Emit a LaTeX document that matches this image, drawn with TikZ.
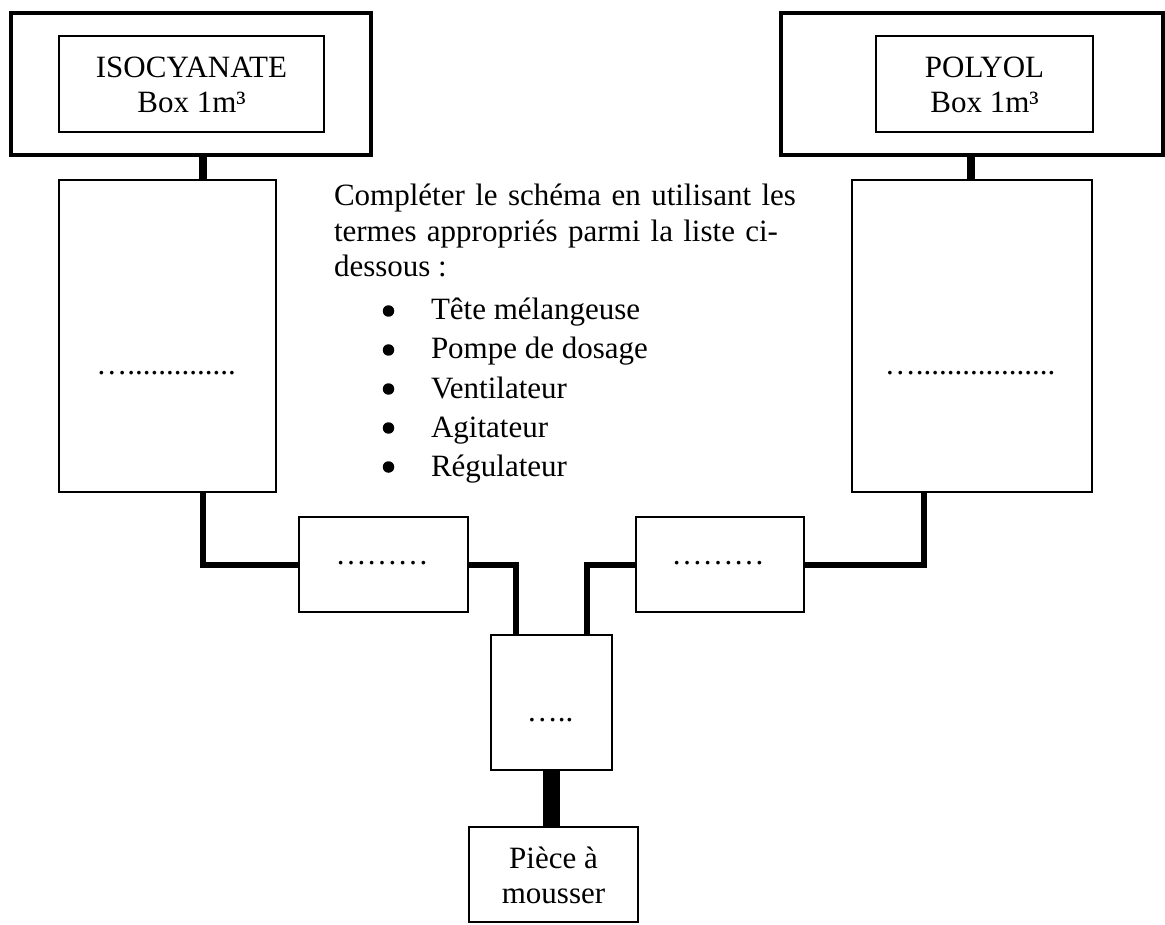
\documentclass[tikz,border=0pt]{standalone}
\usepackage{fontspec}
\setmainfont{Liberation Serif}
\begin{document}
\begin{tikzpicture}[x=1pt,y=-1pt]
\tikzset{
 thickbox/.style={draw, line width=4pt, inner sep=0pt, outer sep=0pt},
 thinbox/.style={draw, line width=1.8pt, inner sep=0pt, outer sep=0pt},
 txt/.style={inner sep=0pt, outer sep=0pt, anchor=base, font=\fontsize{31}{35}\selectfont},
 bulletdot/.style={circle, fill=black, inner sep=0pt, outer sep=0pt, minimum size=11.5pt},
 pipeS/.style={line width=8.5pt},
 pipeM/.style={line width=6pt, line join=miter},
 pipeL/.style={line width=17pt},
}
\useasboundingbox (0,0) rectangle (1165,925);
% boxes
\node[thickbox, minimum width=360pt, minimum height=142pt] (topL) at (191,84) {};
\node[thinbox, minimum width=265pt, minimum height=96pt] (inL) at (191.5,84) {};
\node[thickbox, minimum width=382pt, minimum height=142pt] (topR) at (971.5,84) {};
\node[thinbox, minimum width=217pt, minimum height=96pt] (inR) at (984.5,84) {};
\node[thinbox, minimum width=217pt, minimum height=312pt] (colL) at (167.5,336) {};
\node[thinbox, minimum width=240pt, minimum height=312pt] (colR) at (972,336) {};
\node[thinbox, minimum width=169pt, minimum height=95pt] (midL) at (383.5,564.5) {};
\node[thinbox, minimum width=168pt, minimum height=95pt] (midR) at (720,564.5) {};
\node[thinbox, minimum width=121pt, minimum height=135pt] (mix) at (551.5,702.5) {};
\node[thinbox, minimum width=169pt, minimum height=95pt] (piece) at (553.5,874.5) {};
% x positions of the pipes
\coordinate (xa) at (203,0);
\coordinate (xb) at (971,0);
\coordinate (xc) at (516,0);
\coordinate (xd) at (587,0);
\coordinate (xe) at (924,0);
% connectors
\draw[pipeS] (xa |- topL.south) -- (xa |- colL.north);
\draw[pipeS] (xb |- topR.south) -- (xb |- colR.north);
\draw[pipeM] (xa |- colL.south) -- (xa |- midL.west) -- (midL.west);
\draw[pipeM] (midL.east) -- (xc |- midL.east) -- (xc |- mix.north);
\draw[pipeM] (midR.west) -- (xd |- midR.west) -- (xd |- mix.north);
\draw[pipeM] (midR.east) -- (xe |- midR.east) -- (xe |- colR.south);
\draw[pipeL] (mix.south) -- (mix.south |- piece.north);
% texts
\node[txt] (isoA) at (191.5,78) {ISOCYANATE};
\node[txt] (isoB) at (191.5,113) {Box 1m³};
\node[txt] (polA) at (984.5,78) {POLYOL};
\node[txt] (polB) at (984.5,113) {Box 1m³};
\node[txt, anchor=base west] (p1) at (334,206) {\makebox[462pt][s]{Compléter le schéma en utilisant les}};
\node[txt, anchor=base west] (p2) at (334,242) {\makebox[444pt][s]{termes appropriés parmi la liste ci-}};
\node[txt, anchor=base west] (p3) at (334,277) {dessous :};
\foreach \yy/\tt [count=\i] in {320/Tête mélangeuse, 359/Pompe de dosage, 398/Ventilateur, 437/Agitateur, 476/Régulateur}{
  \node[bulletdot] (bul\i) at (388.5,\yy-9) {};
  \node[txt, anchor=base west] (item\i) at (431,\yy) {\tt};
}
\node[txt] (dL) at (166,374) {…..............};
\node[txt] (dR) at (970,374) {…..................};
\node[txt] (dML) at (382,564) {………};
\node[txt] (dMR) at (718,564) {………};
\node[txt] (dMx) at (550,721) {…..};
\node[txt] (pcA) at (553.5,868) {Pièce à};
\node[txt] (pcB) at (553.5,903) {mousser};
\end{tikzpicture}
\end{document}
